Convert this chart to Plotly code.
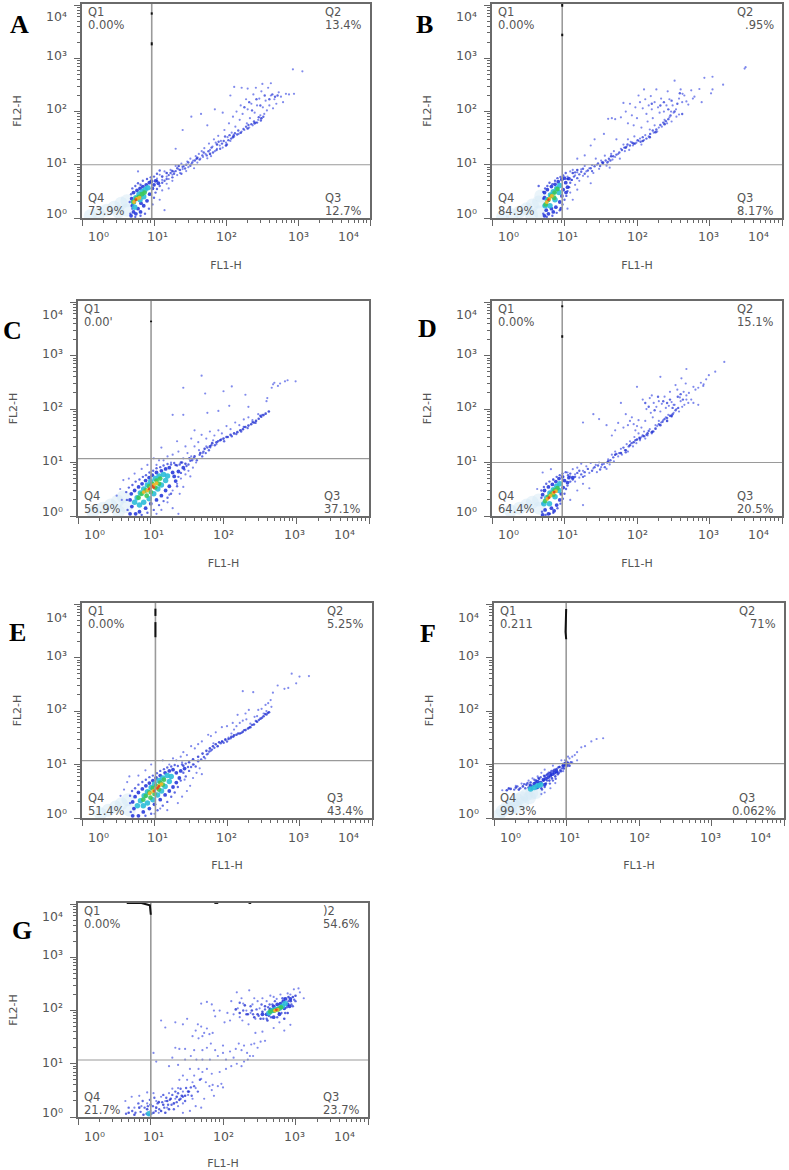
import plotly.graph_objects as go

# ---- text ----
LETTERS = ["A", "B", "C", "D", "E", "F", "G"]
Q1_TEXT = ["0.00%", "0.00%", "0.00'", "0.00%", "0.00%", "0.211", "0.00%"]
Q2_TEXT = ["13.4%", ".95%", "", "15.1%", "5.25%", "71%", "54.6%"]
Q3_TEXT = ["12.7%", "8.17%", "37.1%", "20.5%", "43.4%", "0.062%", "23.7%"]
Q4_TEXT = ["73.9%", "84.9%", "56.9%", "64.4%", "51.4%", "99.3%", "21.7%"]
Q2_NAME = ["Q2", "Q2", "", "Q2", "Q2", "Q2", ")2"]
DECADES = [1, 10, 100, 1000, 10000]
MINORS = [m * d for d in [1, 10, 100, 1000] for m in [2, 3, 4, 5, 6, 7, 8, 9]]
TICK_TEXT = ["10⁰", "10¹", "10²", "10³", "10⁴"]

# ---- quadrant gates (FL1-H, FL2-H) ----
GATE_X = [9.3, 9.3, 10.1, 9.3, 10.3, 9.9, 10.1]
GATE_Y = [10, 10, 11.8, 10, 11.8, 10.4, 11.8]

# ---- dark remnants along the top of the vertical gates (x, y) ----
MARK_A = [[(9.3, 7300), (9.3, 6600)], [(9.3, 2000), (9.3, 1750)]]
MARK_B = [[(9.3, 10500), (9.3, 9300)], [(9.3, 2900), (9.3, 2600)]]
MARK_C = [[(10.1, 4500), (10.1, 4200)]]
MARK_D = [[(9.3, 8700), (9.3, 8000)], [(9.3, 2400), (9.3, 2150)]]
MARK_E = [[(10.3, 8200), (10.3, 6000)], [(10.3, 4600), (10.3, 2400)]]
MARK_F = [[(9.9, 8100), (9.7, 3000), (9.9, 2200)]]
MARK_G = [[(4.7, 10500), (7.5, 10500), (9.8, 9500), (10.1, 6300)], [(76, 10500), (86, 10500)], [(225, 10500), (245, 10500)]]

# ---- events, (FL1-H, FL2-H) ----
A_SPARSE = [(11,5.5),(12,6.5),(13,5.2),(14,7.5),(15,6),(16,5.4),(17,8),(18,6.5),(19,7.4),(20,9.5),(21,6.4),(22,8.2),(23,7),(24,10.5),(25,8.3),(26,9.4),(28,7.6),(29,11.5),(30,9),(32,13),(33,10.4),(35,12),(36,8.6),(38,14.5),(40,11),(42,16),(44,13),(46,18),(48,14),(50,20.5),(52,16),(55,13.2),(58,25),(60,19),(62,14.5),(65,22),(68,30),(70,18),(72,26),(75,20),(78,35),(82,23),(85,28),(90,21),(95,45),(100,26),(105,33),(110,60),(115,28),(120,40),(125,80),(130,34),(135,52),(140,100),(150,38),(155,70),(160,130),(165,42),(170,90),(180,45),(190,170),(195,60),(200,110),(210,50),(215,75),(225,140),(235,55),(240,210),(250,95),(260,62),(270,130),(280,70),(290,175),(300,85),(310,240),(325,120),(340,90),(355,160),(370,105),(385,280),(400,130),(420,200),(450,115),(470,170),(500,140),(540,230),(580,190),(620,150),(680,215),(750,210),(850,620),(1150,570),(880,215),(25,45),(20,20),(33,80),(45,90),(55,55),(70,110),(90,95),(115,200),(130,290),(165,280),(200,270),(260,280),(320,330),(420,340),(14,1.4),(12,2.2),(13,3.3),(16,3.6),(15,4.4),(18,5),(6,7.5)]
A_FILL = [(4.7,1.2),(5,1.5),(4.6,2),(4.8,2.8),(5,3.6),(5.5,4),(6,4.5),(6.5,4.2),(7,5),(8,5.4),(9,5.8),(10,6),(11,6.8),(12,7.8),(5.5,1.05),(6.5,1.1),(7.5,1.2),(8.5,1.5),(9.5,1.8),(10,2.4),(10.5,3),(11,3.5),(12,4),(13,4.6),(14,5),(15,5.4),(16,6.4),(17,7),(18,5.8),(19,6.8),(20,7.6),(21,8.6),(23,8),(24,6.8),(25,9.2),(27,8.5),(28,10),(30,11),(32,9.6),(34,11),(37,12),(39,13),(43,12.5),(47,15),(49,17),(54,15),(57,18),(63,21),(66,17),(74,19),(79,27),(83,20),(88,25),(93,28),(97,34),(103,24),(108,29),(112,36),(118,31),(128,36),(133,39),(143,37),(148,44),(175,47),(190,52),(205,56),(225,58),(245,65),(270,62),(285,78),(305,68),(330,80),(180,120),(210,150),(230,105),(265,170),(300,130),(345,200),(400,170),(440,210),(480,190),(520,200)]
A_MID = [(11,5),(13,6),(15,7),(18,7.6),(22,9.5),(40,13.5),(60,16),(75,24),(100,23),(125,33),(160,40),(200,48),(250,60),(310,75)]
A_BLUE = [(4.8,1.1),(5.2,1.3),(5.6,1.2),(6,1.5),(6.5,1.3),(5,1.7),(4.9,2.3),(5.2,3),(5.8,3.3),(6.4,3.6),(7,3.9),(7.8,4.2),(8.6,4.6),(9.2,4.9),(9.5,3.6),(8.7,2.8),(8,2.1),(7.2,1.7),(6.6,1.9),(10,4.2),(10.5,5),(11.5,4.5)]
A_CYAN = [(5.2,2),(5.6,2.4),(6.2,2.8),(6.8,3.1),(7.5,3.4),(8.2,3.7),(5.4,1.6),(6.4,2.2),(7.2,2.5)]
A_GREEN = [(5.2,2),(5.7,2.3),(6.2,2.5),(6.8,2.8),(7.4,3)]
A_ORANGE = [(5.3,2.0),(5.8,2.3),(6.3,2.4)]
A_RED = [(5.6,2.2)]
A_HAZE = [(1.3,1.1),(1.7,1.2),(2.2,1.4),(2.8,1.6),(3.5,1.9),(4.2,2.1),(3.2,1.3),(4.2,1.4)]

B_SPARSE = [(11,6),(12,7.5),(12.5,5.2),(13,8),(14,6.3),(15,7.2),(16,5),(17,8.2),(18,6.2),(19,9.5),(20,7.5),(21,6),(22,8.6),(23,4.5),(24,9.8),(25,7),(27,13),(28,10),(30,8.4),(32,12),(34,10.5),(36,14.8),(38,9.6),(40,11.5),(42,8.8),(44,16),(46,12.5),(48,18),(50,14),(55,16),(58,13),(60,20),(65,24),(68,18),(72,22),(75,30),(78,19),(82,27),(88,23),(92,34),(98,26),(105,28),(110,31),(115,24),(125,29),(130,36),(145,34),(150,46),(170,40),(175,55),(190,42),(200,50),(220,52),(240,70),(260,60),(280,78),(300,65),(320,95),(350,80),(380,88),(420,150),(60,78),(50,72),(45,75),(40,73),(65,145),(70,100),(75,60),(80,140),(85,85),(90,55),(95,120),(100,75),(105,200),(110,150),(115,50),(120,115),(125,260),(130,170),(135,90),(140,65),(145,130),(155,195),(160,110),(165,75),(175,150),(185,260),(195,120),(205,95),(215,175),(235,100),(255,130),(265,240),(280,170),(295,100),(310,130),(330,380),(345,110),(380,175),(400,260),(425,215),(450,200),(480,155),(510,135),(560,250),(590,175),(620,190),(725,265),(780,150),(850,430),(1100,450),(1050,220),(1100,260),(1540,320),(3050,640),(3150,680),(23,23),(15,13),(19,15),(35,38),(26,30),(52,30),(12,3),(13,2.2),(15,3.4),(14,4.2),(11,1.5)]
B_FILL = [(5.1,1.2),(5.2,1.7),(5.1,2.3),(5.1,3.1),(5.4,3.6),(5.8,4),(4.4,4),(6.2,4.6),(6.8,4.3),(7.4,5),(8,5.6),(8.8,5.9),(9.6,6.3),(10.4,7),(5.7,1.05),(6.8,1.1),(7.8,1.25),(8.6,1.4),(9.4,1.8),(10,2.2),(10.6,2.6),(11,3.2),(11.6,3.8),(12,4.6),(12.6,5.2),(13.5,6),(14,7.2),(15,5.6),(16,6.6),(17,7.4),(18,8.4),(19,6.8),(21,7.8),(23,8.6),(24,7.6),(26,9.4),(29,10.6),(31,9.5),(33,11),(37,12),(39,11),(41,13),(43,12),(47,14.5),(52,15.5),(57,17),(62,19),(67,21),(74,24),(80,23),(86,26),(94,25),(102,29),(112,27),(120,33),(135,31),(152,38),(165,44),(185,46),(210,56),(230,62),(250,66),(270,72),(290,84),(330,100),(420,90),(160,140),(210,130),(235,150),(270,110),(300,160),(360,140),(390,220)]
B_MID = [(11,5.4),(13,7),(15,8),(34,11),(44,14.5),(70,21),(90,25),(120,28),(150,33),(180,41),(240,58)]
B_BLUE = [(5.3,1.1),(5.6,1.4),(6,1.2),(6.6,1.5),(7,1.3),(7.6,1.6),(5.3,2.4),(5.3,3),(5.8,3.4),(6.6,3.9),(7.4,4.3),(8.2,4.8),(9.2,5.3),(10,5.6),(10.4,4.6),(9.6,3.4),(9.2,2.6),(8.6,2),(11,3.8),(10.5,3),(11.5,5.5),(9,1.5)]
B_CYAN = [(5.4,1.7),(5.8,2.2),(6.4,2.7),(7,3.1),(7.8,3.6),(8.6,4.1),(8.4,3),(7.4,2.2),(6.3,1.7)]
B_GREEN = [(5.5,1.8),(6,2.2),(6.6,2.6),(7.3,3),(8,3.5),(7.2,2.4)]
B_ORANGE = [(5.7,2),(6.2,2.3),(6.7,2.6)]
B_RED = [(6,2.2)]
B_HAZE = [(1.4,1.05),(1.9,1.15),(2.4,1.3),(3,1.5),(3.6,1.75),(4.4,2),(4.5,1.3),(3.5,1.15),(4.7,2.6)]

C_SPARSE = [(50,420),(28,250),(56,195),(100,215),(130,265),(200,185),(20,78),(28,78),(60,85),(85,92),(120,115),(220,110),(400,160),(390,140),(40,40),(14,19),(500,310),(480,290),(560,270),(600,300),(700,330),(760,345),(980,330),(460,250),(23,25),(30,20),(36,28),(45,24),(50,33),(58,28),(65,38),(75,32),(85,40),(95,35),(110,48),(125,42),(145,56),(165,50),(190,64),(220,70),(250,62),(300,80),(340,78),(20,14),(24,16),(28,12),(32,15),(36,13),(40,20),(46,17),(52,15),(58,20),(66,19),(72,26),(80,22),(15,11),(17,13),(19,10),(12,9),(13,11),(11,12),(9,9),(7.5,7.6),(6,6.2),(5,5),(4.2,4.7),(3.8,3.2),(3.4,2.4),(4,2),(18,2.5),(20,3),(23,4),(26,5),(30,6),(33,7),(38,8),(42,10),(20,1.4),(24,1.1),(14,1.3),(25,2.6),(28,3.5),(35,5.5),(12,1.1),(17,1.8)]
C_FILL = [(4.8,1.3),(4.7,2),(4.6,2.8),(5,3.4),(5.6,3.8),(6.2,4.4),(7,4.8),(7.8,5.4),(8.6,5.8),(9.6,6.5),(10.8,7),(12,7.8),(13.5,8.2),(15,8.8),(17,9.4),(19,9.2),(21,9.8),(23,8.8),(25,9.2),(27,10),(29,7.4),(31,8.6),(33,9.2),(35,10.8),(26,6.4),(24,5.4),(23,3.6),(19,2.6),(17,2.2),(15,1.9),(13,1.6),(11,1.3),(9,1.15),(7.5,1.05),(37,11),(39,12),(43,11),(47,14),(51,13),(53,16),(57,15),(60,19),(63,17),(68,21),(76,21),(84,25),(93,27),(102,25),(115,30),(130,31),(150,34),(175,38),(190,46),(215,44),(250,57),(275,55),(320,75)]
C_MID = [(22,9),(26,10),(30,9.5),(34,12),(40,13),(48,15),(55,18),(65,20),(70,23),(80,24),(90,26),(100,28),(110,30),(125,33),(140,35),(155,37),(170,40),(185,42),(200,46),(220,49),(240,52),(260,56),(280,60),(305,66),(330,72),(355,77),(380,82),(420,90)]
C_BLUE = [(5.2,1.1),(5.5,1.5),(5.2,2),(5.4,2.6),(6,3),(6.8,3.5),(7.6,4),(8.5,4.6),(9.5,5.2),(10.5,5.8),(12,6.5),(14,7),(16,7.6),(18,8),(20,6.5),(21,5.5),(24,6.8),(28,8),(22,4.5),(18,3.6),(16,3),(14,2.4),(12,2),(10,1.7),(8.5,1.4),(7,1.2),(6.2,1.1)]
C_CYAN = [(6,1.8),(6.5,2.2),(7.2,2.7),(8,3.2),(9,3.8),(10,4.4),(11.5,5),(13,5.6),(15,6),(17,5.6),(16,4.6),(14,3.8),(12.5,3.2),(11,2.6),(9.5,2.1),(8,1.8),(7,1.6)]
C_GREEN = [(6.8,2.2),(7.5,2.6),(8.5,3),(9.5,3.6),(10.5,4),(12,4.6),(13.5,5),(13,4),(11.5,3.4),(10,2.8),(8.8,2.4)]
C_ORANGE = [(8,2.8),(9,3),(10,3.4),(11,3.8),(12,4.1)]
C_RED = [(9.5,3.2),(10.5,3.6),(11,3.4)]
C_HAZE = [(1.6,1.2),(2.2,1.4),(2.8,1.6),(3.5,1.9),(4.2,2.3),(4.6,1.5),(3.6,1.2)]

D_SPARSE = [(11,6.5),(12,5.5),(13,7.5),(14,6),(15,8),(16,5.2),(17,9.5),(18,7),(19,5.6),(20,8.5),(22,6.4),(23,9.8),(25,7.8),(27,9),(28,6.6),(30,10),(32,8.2),(35,9.4),(38,7.6),(40,11.5),(42,9.2),(45,14),(48,10.5),(50,16),(55,13),(60,18),(62,14),(68,17),(72,22),(75,16),(80,25),(88,20),(92,30),(98,23),(105,35),(110,26),(115,30),(125,38),(130,28),(140,32),(150,42),(160,35),(170,38),(180,50),(190,48),(215,56),(230,62),(250,70),(270,78),(300,72),(320,85),(350,100),(380,90),(400,140),(420,110),(450,120),(480,180),(520,200),(560,150),(600,260),(640,230),(700,250),(760,310),(820,270),(900,360),(980,430),(1200,500),(1600,760),(18,56),(25,80),(30,65),(38,50),(45,32),(50,40),(55,55),(60,130),(65,45),(70,80),(75,50),(80,60),(85,70),(90,52),(95,40),(100,48),(105,62),(115,45),(120,150),(130,60),(135,100),(150,160),(155,85),(165,70),(170,130),(185,110),(200,140),(210,90),(220,125),(240,170),(250,105),(275,115),(285,210),(300,135),(320,120),(340,280),(360,230),(390,165),(410,375),(440,210),(470,300),(510,130),(600,130),(700,120),(830,290),(480,150),(160,180),(100,260),(210,400),(480,560),(330,120),(200,60),(22,3.3),(18,4),(15,3),(14,4.4),(18,1.6),(12,2),(5,6.5),(6.5,7.5),(7,4.8),(4.2,3.2)]
D_FILL = [(4.9,1.2),(5,1.7),(4.8,2.2),(4.8,3),(5.2,3.5),(5.6,4),(6.2,4.4),(7,4.8),(7.8,5.4),(8.6,5.8),(9.4,6.2),(10.4,6.6),(11.2,5.8),(12,6.2),(5.5,1.05),(6.3,1.1),(7,1.15),(8,1.4),(8.8,1.7),(9.5,2.1),(10,2.6),(10.5,3.2),(11,3.7),(12,4.4),(13,4.8),(14,5.4),(15,6.4),(16,7),(17,6),(18,5.4),(19,6.6),(21,7.6),(24,7),(26,8.2),(29,8.8),(31,7.4),(33,9.2),(36,8.2),(39,10),(43,11),(47,12.5),(52,14.5),(57,15),(65,19),(70,15.5),(77,20),(84,23),(95,26),(108,29),(120,32),(135,33),(145,39),(165,38),(200,52),(225,58),(240,65),(260,68),(285,75),(310,80),(340,95),(370,105),(130,130),(145,110),(175,95),(195,170),(230,140),(260,130),(285,150),(310,105),(365,170),(400,190),(430,150)]
D_MID = [(40,10.5),(50,14),(60,15),(70,17),(80,21),(90,24),(100,27),(110,28),(125,31),(140,35),(160,37),(180,43),(210,50),(260,60),(300,75)]
D_BLUE = [(5,1.05),(5.4,1.3),(6,1.1),(6.6,1.4),(7.2,1.25),(7.8,1.6),(5,2.5),(5.3,3),(6,3.5),(6.8,3.9),(7.6,4.4),(8.4,5),(9.4,5.4),(10,4.6),(9.6,3.4),(9,2.6),(8.6,2),(11,4.2),(11.5,5.2),(13,5.2)]
D_CYAN = [(5.2,1.7),(5.7,2.2),(6.3,2.7),(7,3.1),(7.8,3.6),(8.6,4),(8.4,3),(7.4,2.3),(6.2,1.7)]
D_GREEN = [(5.4,1.9),(6,2.3),(6.6,2.6),(7.3,3),(8,3.3),(7,2.5)]
D_ORANGE = [(5.8,2.1),(6.4,2.4),(7,2.7),(7.6,2.9)]
D_RED = [(6.1,2.2),(7.2,2.8)]
D_HAZE = [(1.8,1.25),(2.4,1.4),(3,1.6),(3.6,1.8),(4.4,2),(4.5,1.4)]

E_SPARSE = [(230,225),(165,235),(780,500),(1000,440),(1350,450),(900,330),(700,270),(620,260),(500,300),(430,220),(400,160),(410,120),(340,130),(300,110),(270,105),(200,105),(180,90),(140,85),(120,60),(100,52),(85,50),(70,40),(60,34),(55,36),(45,27),(40,24),(36,20),(32,22),(28,15),(25,17),(23,14),(20,12),(24,11),(18,13),(16,10),(13,12),(9,10),(7.5,7.8),(6,6.2),(4.5,6),(4.2,4.7),(3.8,3.4),(3.4,2.6),(15,1.4),(12,1.5),(10,1.2),(21,1.9),(24,2.5),(28,3.2),(31,4),(26,5.2),(34,5.6),(38,7),(42,8.5),(45,6.6),(35,10),(40,12),(50,13),(55,16),(60,18),(65,25),(75,22),(85,27),(95,30),(105,32),(115,38),(125,45),(135,52),(150,60),(165,66),(185,70),(210,58),(240,78),(260,80),(320,90),(350,100),(370,140)]
E_FILL = [(4.7,1.3),(4.6,1.9),(4.6,2.6),(4.9,3.2),(5.4,3.6),(6,4.2),(6.8,4.7),(7.6,5.2),(8.5,5.8),(9.5,6.2),(10.8,6.9),(12,7.6),(13.5,8.2),(15,8.8),(17,9.2),(19,9.8),(21,9.4),(24,10),(27,10.4),(29,9),(25,7),(27,6),(23,5),(21,3.8),(19,3),(17,2.5),(15,2),(13,1.7),(11,1.4),(9,1.2),(7.5,1.1),(30,7.6),(32,9),(34,10),(37,9.2),(40,11.5),(44,12.5),(48,13.8),(53,15.5),(57,17.5),(62,19),(67,20.5),(74,22),(82,25),(90,25.5),(100,27),(112,31),(122,33),(142,38),(158,39),(172,44),(202,49),(222,55),(250,65),(275,68),(305,75),(335,88),(365,92)]
E_MID = [(25,9.5),(30,11),(34,12.5),(40,14),(46,16),(52,18),(58,20),(64,22),(70,24),(78,26),(86,27),(95,29),(105,30),(115,33),(125,35),(135,36),(150,38),(165,41),(180,44),(195,47),(210,50),(235,56),(260,63),(290,72),(320,80),(350,86),(380,95)]
E_BLUE = [(5,1.1),(5.2,1.5),(5,2),(5.4,2.5),(6,3),(6.8,3.5),(7.6,4),(8.5,4.5),(9.5,5),(10.5,5.6),(12,6.2),(14,7),(16,7.6),(18,8),(20,7),(23,7.6),(26,8.4),(22,5.6),(20,4.6),(18,3.8),(16,3.2),(14,2.7),(12,2.2),(10,1.8),(8.5,1.5),(7,1.3),(6,1.1)]
E_CYAN = [(5.8,1.7),(6.4,2.1),(7.2,2.6),(8,3.1),(9,3.7),(10,4.3),(11.5,5),(13,5.6),(15,6.2),(17,6),(16,4.8),(14,3.9),(12.5,3.2),(11,2.7),(9.5,2.2),(8,1.9),(7,1.7)]
E_GREEN = [(7,2.2),(7.6,2.6),(8.5,3),(9.5,3.6),(10.5,4),(12,4.6),(13.5,5.2),(13,4.2),(11.5,3.4),(10,2.8),(8.8,2.4)]
E_ORANGE = [(8.6,2.9),(9.6,3.2),(10.5,3.6),(11.5,4),(12.5,4.3)]
E_RED = [(10,3.2),(11,3.6),(11.5,3.9)]
E_HAZE = [(1.8,1.2),(2.3,1.4),(2.9,1.6),(3.5,1.85),(4.3,2.2),(4.5,1.4)]

F_SPARSE = [(32,31),(26,30),(22,27),(18,22),(16,21),(14,17),(13,15),(14,12),(12,11),(12,14),(11,13),(10.5,14),(9.5,12),(8.5,12),(8,9),(7,8),(6.5,9.5),(6,7),(5,8),(4.5,7),(4,6),(3.4,5.5),(3,5),(2.4,4.4),(2,4),(1.6,3.5),(1.3,3.3),(7,4.5),(6,3.6),(5,3),(4.5,2.8),(9,7.5)]
F_FILL = [(1.6,3.6),(1.9,3.4),(2.1,3.9),(2.3,3.6),(2.6,4.3),(2.7,3.6),(2.9,4.5),(3.1,4.2),(3.3,3.5),(3.6,5.2),(3.7,4.6),(3.9,3.6),(4.1,5.6),(4.3,4.2),(4.4,5.8),(4.6,3.4),(4.9,6.2),(5,3.8),(5.3,6.4),(5.4,5),(5.7,7),(5.9,4.4),(6.1,6.4),(6.2,7.6),(6.5,5),(6.8,8),(7.1,5.4),(7.4,7.2),(7.7,8.8),(7.9,7),(8.2,7.8),(8.6,8.4),(9,9),(9.4,9.4),(10,11.4),(10.3,9.4),(10.7,10.2),(11.5,11)]
F_MID = [(1.5,3.3),(1.7,3.5),(2,3.7),(2.2,3.4),(2.5,3.9),(2.8,4.2),(3,3.7),(3.2,4.6),(3.5,4),(3.8,5),(4,4.4),(4.2,5.4),(4.5,3.6),(4.8,5),(5,6),(5.2,4.4),(5.5,6.6),(5.8,5),(6,7),(6.3,5.5),(6.6,7.6),(7,6),(7.3,8.2),(7.6,6.6),(8,9),(8.4,7.5),(8.8,9.5),(9.2,8.4),(9.6,10.5),(10,10),(10.5,10.8),(11,9.5)]
F_BLUE = [(3.2,4),(3.6,4.4),(4,4.8),(4.4,4.6),(4.8,5.2),(5.2,5.4),(5.6,5.8),(6,6.2),(6.4,6.6),(6.8,7),(7.3,7.4),(5,4.2),(4,3.8),(9.2,10),(9.8,10.4)]
F_CYAN = [(3.2,3.5),(3.6,3.7),(4,4),(4.4,4.2)]
F_GREEN = []
F_ORANGE = []
F_RED = []
F_HAZE = [(1.15,1.1),(1.3,1.35),(1.5,1.6),(1.7,1.5),(1.8,1.9),(2,1.6),(2.1,2.2),(2.4,2.4),(2.5,1.9),(2.8,2.7),(3.1,2.4),(3.3,2.9),(3.8,3)]

G_SPARSE = [(11,16),(14,65),(16,48),(22,20),(25,19),(20,13),(12,11),(18,9),(24,9.5),(22,60),(28,55),(32,70),(38,33),(42,42),(46,30),(50,50),(55,38),(60,46),(45,55),(52,33),(65,36),(72,38),(40,18),(30,19),(52,18),(60,20),(68,24),(30,12),(36,14),(43,12),(52,12),(66,12),(78,18),(85,14),(100,16),(110,12),(125,17),(140,13),(150,19),(165,24),(180,18),(195,22),(215,16),(245,23),(270,24),(300,20),(330,26),(380,27),(220,12),(235,14),(260,14),(100,22),(60,8),(70,6.5),(90,7),(110,8),(130,9),(155,10),(180,9),(195,11),(35,8),(40,6),(46,8),(52,7),(28,6),(25,5),(32,5),(38,4.5),(42,3.5),(50,5.2),(58,4.5),(65,3.8),(72,4),(85,3.8),(95,4.2),(100,3.6),(75,2.5),(70,3.2),(55,2.2),(50,1.5),(42,1.6),(38,2.2),(33,2.6),(28,3),(24,3.5),(20,3.4),(18,2.8),(16,2),(14,2.4),(12,2),(9,1.8),(7.5,1.6),(6,1.5),(4.5,2),(5.5,2.4),(7,2.5),(9,2.9),(11,2.8),(10,1.3),(13,1.2),(17,1.5),(24,1.6),(28,1.2),(35,1.3),(22,2.2),(28,1.8),(600,60),(500,47),(700,42),(850,54),(350,40),(280,38),(90,100),(75,100),(70,130),(78,78),(60,145),(50,135),(105,60),(125,65),(115,90),(130,150),(140,85),(160,110),(170,75),(190,135),(185,65),(210,100),(225,55),(240,90),(255,130),(280,70),(300,150),(320,110),(350,170),(180,170),(155,220),(230,240),(270,170),(400,150),(450,190),(500,180),(550,165),(620,200),(700,170),(780,210),(850,200),(950,250),(1100,260),(1150,220),(1300,170)]
G_FILL = [(4.6,1.15),(5,1.5),(5.6,1.3),(6.2,1.2),(6.8,1.8),(7.3,1.25),(7.8,2),(8.3,1.5),(8.8,1.15),(9.2,1.6),(9.8,2.1),(10.3,1.15),(10.8,1.6),(11.3,2.3),(11.8,1.3),(12.5,1.8),(13.2,1.4),(14.5,1.9),(15,2.6),(15.5,1.5),(16.5,2.3),(17.5,1.7),(18.5,2.1),(19.5,1.7),(20,2.6),(21,1.4),(22,3),(23,1.9),(24,2.8),(26,2.2),(26,3.4),(28,2.4),(30,2),(31,3.5),(34,3),(36,3.6),(37,2.5),(40,3.8),(45,3),(48,5),(170,140),(190,100),(210,85),(240,120),(260,85),(290,105),(310,80),(340,130),(360,70),(380,105),(400,70),(420,115),(440,130),(460,75),(480,130),(520,150),(560,75),(590,90),(640,90),(660,170),(720,90),(760,115),(800,150),(880,130),(920,120),(960,160),(1000,150)]
G_MID = [(150,105),(170,90),(200,125),(220,85),(250,100),(270,75),(300,85),(330,70),(350,95),(380,120),(410,65),(430,80),(700,70),(780,90),(860,150),(920,180),(1000,190),(800,180),(5,1.2),(6,1.1),(7,1.5),(8,1.1),(9,1.4),(10,1.7),(11,1.2),(12,1.5),(13,1.9),(14,1.3),(15,1.7),(16,1.2),(17,2),(18,1.4),(19,2.2),(21,1.8),(23,2.4),(25,2.1),(27,2.5),(30,2.5),(33,3),(9.5,1.1)]
G_BLUE = [(400,85),(450,105),(500,120),(560,130),(620,135),(680,150),(730,165),(500,75),(600,85),(700,110),(780,130),(830,120),(350,85),(850,165)]
G_CYAN = [(430,90),(480,100),(530,105),(600,110),(660,120),(720,135),(9.5,1.15)]
G_GREEN = [(450,95),(510,100),(570,105),(630,115)]
G_ORANGE = [(520,100),(570,104)]
G_RED = [(545,103)]
G_HAZE = []

# ---- one row per panel ----
SPARSE = [A_SPARSE, B_SPARSE, C_SPARSE, D_SPARSE, E_SPARSE, F_SPARSE, G_SPARSE]
FILL = [A_FILL, B_FILL, C_FILL, D_FILL, E_FILL, F_FILL, G_FILL]
MID = [A_MID, B_MID, C_MID, D_MID, E_MID, F_MID, G_MID]
BLUE = [A_BLUE, B_BLUE, C_BLUE, D_BLUE, E_BLUE, F_BLUE, G_BLUE]
CYAN = [A_CYAN, B_CYAN, C_CYAN, D_CYAN, E_CYAN, F_CYAN, G_CYAN]
GREEN = [A_GREEN, B_GREEN, C_GREEN, D_GREEN, E_GREEN, F_GREEN, G_GREEN]
ORANGE = [A_ORANGE, B_ORANGE, C_ORANGE, D_ORANGE, E_ORANGE, F_ORANGE, G_ORANGE]
RED = [A_RED, B_RED, C_RED, D_RED, E_RED, F_RED, G_RED]
HAZE = [A_HAZE, B_HAZE, C_HAZE, D_HAZE, E_HAZE, F_HAZE, G_HAZE]
MARKS = [MARK_A, MARK_B, MARK_C, MARK_D, MARK_E, MARK_F, MARK_G]

# ---- layout, separate from the data ----
W, H = 789, 1170
BOX = [(82, 370, 4, 218), (492, 782, 4, 218), (78, 369, 301, 516), (492, 782, 301, 516),
       (82, 372, 603, 818), (494, 784, 603, 818), (78, 368, 903, 1117)]
LETTER_POS = [(19, 24), (424, 24), (12, 330), (427, 328), (17, 632), (428, 633), (22, 931)]
XLABEL_OFF = [16, 75, 145, 216, 266]
YLABEL_OFF = [5, 55, 110, 163, 201]
LAYERS = [(HAZE, 13, "#d6e9f6", 0.5), (SPARSE, 2.2, "#4a58e4", 0.7), (FILL, 2.4, "#2a3ad8", 0.75),
          (MID, 2.6, "#2030d0", 0.8), (BLUE, 3.8, "#1c2fd8", 0.85), (CYAN, 5.5, "#2cbcd8", 0.9),
          (GREEN, 4.8, "#3cc85a", 0.9), (ORANGE, 3.8, "#eeb52a", 0.95), (RED, 2.8, "#e04a1c", 0.95)]
TXT = "#555555"
FONT = "DejaVu Sans"

fig = go.Figure()
annots = []


def note(px, py, text, size=11.5, anchor="left", color=TXT, family=FONT):
    annots.append(dict(x=px / W, y=1 - py / H, xref="paper", yref="paper", text=text, showarrow=False,
                       xanchor=anchor, yanchor="middle", align=anchor,
                       font=dict(size=size, color=color, family=family)))


for i in range(7):
    L, R, T, B = BOX[i]
    sfx = "" if i == 0 else str(i + 1)
    xa, ya = "x" + sfx, "y" + sfx
    axis_common = dict(type="log", showgrid=False, zeroline=False, showline=True, mirror=True,
                       linecolor="#6a6a6a", linewidth=1.5, ticks="outside", ticklen=6, tickwidth=1,
                       tickcolor="#666666", tickmode="array", tickvals=DECADES, ticktext=TICK_TEXT,
                       showticklabels=False,
                       minor=dict(ticks="outside", ticklen=3, tickwidth=1, tickcolor="#666666",
                                  tickmode="array", tickvals=MINORS, showgrid=False))
    fig.update_layout({
        "xaxis" + sfx: dict(axis_common, domain=[L / W, R / W], range=[0, 4], anchor=ya,
                            title=dict(text="FL1-H", standoff=37, font=dict(size=11, color=TXT, family=FONT))),
        "yaxis" + sfx: dict(axis_common, domain=[1 - B / H, 1 - T / H], range=[0, 4.02], anchor=xa,
                            title=dict(text="FL2-H", standoff=50, font=dict(size=11, color=TXT, family=FONT))),
    })
    for rows, size, color, alpha in LAYERS:
        pts = rows[i]
        if pts:
            fig.add_trace(go.Scatter(x=[p[0] for p in pts], y=[p[1] for p in pts], mode="markers",
                                     xaxis=xa, yaxis=ya, hoverinfo="skip",
                                     marker=dict(size=size, color=color, opacity=alpha, line=dict(width=0))))
    fig.add_trace(go.Scatter(x=[GATE_X[i], GATE_X[i]], y=[1, 10 ** 4.02], mode="lines", xaxis=xa, yaxis=ya,
                             hoverinfo="skip", line=dict(color="#9a9a9a", width=1.6)))
    fig.add_trace(go.Scatter(x=[1, 10000], y=[GATE_Y[i], GATE_Y[i]], mode="lines", xaxis=xa, yaxis=ya,
                             hoverinfo="skip", line=dict(color="#9a9a9a", width=1.1)))
    for seg in MARKS[i]:
        fig.add_trace(go.Scatter(x=[p[0] for p in seg], y=[p[1] for p in seg], mode="lines", xaxis=xa, yaxis=ya,
                                 hoverinfo="skip", cliponaxis=False, line=dict(color="#111111", width=2)))
    for off, t in zip(XLABEL_OFF, TICK_TEXT):
        note(L + off, B + 19, t, size=12.5, anchor="center")
    for off, t in zip(YLABEL_OFF, TICK_TEXT):
        note(L - 13, B - off, t, size=12.5, anchor="right")
    note(L + 4, T + 8, "Q1")
    note(L + 4, T + 21, Q1_TEXT[i])
    if Q2_NAME[i]:
        note(R - 47, T + 8, Q2_NAME[i])
    if Q2_TEXT[i]:
        note(R - 6, T + 21, Q2_TEXT[i], anchor="right")
    note(L + 4, B - 20, "Q4")
    note(L + 4, B - 7, Q4_TEXT[i])
    note(R - 47, B - 20, "Q3")
    note(R - 6, B - 7, Q3_TEXT[i], anchor="right")
    note(LETTER_POS[i][0], LETTER_POS[i][1], "<b>" + LETTERS[i] + "</b>", size=26, anchor="center",
         color="#000000", family="Liberation Serif")

fig.update_layout(width=W, height=H, margin=dict(l=0, r=0, t=0, b=0), paper_bgcolor="white",
                  plot_bgcolor="white", showlegend=False, annotations=annots)
fig.write_html("out.html", post_script="document.body.style.margin='0';", config={"displayModeBar": False})
